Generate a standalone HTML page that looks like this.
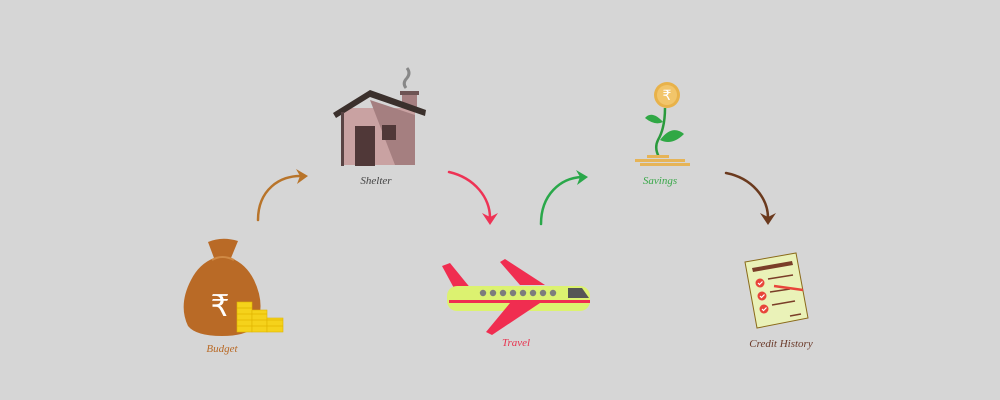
<!DOCTYPE html>
<html><head><style>
html,body{margin:0;padding:0;background:#d6d6d6;}
svg{display:block}
text{font-family:"Liberation Serif",serif;font-style:italic;font-size:11px;text-anchor:middle}
</style></head><body>
<svg width="1000" height="400" viewBox="0 0 1000 400">
<rect width="1000" height="400" fill="#d6d6d6"/>
<!-- arrows -->
<g fill="none" stroke-width="2.5" stroke-linecap="round">
<path d="M258,220 C258,190 280,175 302,176" stroke="#b8742a"/>
<path d="M541,224 C541,195 560,178 582,177" stroke="#2aa84a"/>
<path d="M449,172 C475,178 490,198 490,218" stroke="#ee3355"/>
<path d="M726,173 C752,178 768,198 768,218" stroke="#6b3a1e"/>
</g>
<polygon points="296,169 308,176 297,184 300,176" fill="#b8742a"/>
<polygon points="576,170 588,177 577,185 580,177" fill="#2aa84a"/>
<polygon points="482,213 490,225 498,213 490,217" fill="#ee3355"/>
<polygon points="760,213 768,225 776,213 768,217" fill="#6b3a1e"/>
<!-- budget bag -->
<path d="M208,242 Q222,236 238,241 L231,258 Q246,264 254,280 Q266,305 256,326 Q246,336 222,336 Q196,336 188,326 Q178,305 191,280 Q199,264 214,258 Z" fill="#b96a26"/>
<path d="M212,260 Q222,254 234,260" stroke="#d08a45" stroke-width="2" fill="none"/>
<text x="220" y="316" style="font-size:30px;font-style:normal;font-family:'DejaVu Sans',sans-serif" fill="#fff">₹</text>
<g fill="#f5d21b" stroke="#e0b400" stroke-width="0.6">
<rect x="237" y="302" width="15" height="30"/>
<rect x="252" y="310" width="15" height="22"/>
<rect x="267" y="318" width="16" height="14"/>
</g>
<g stroke="#e0b400" stroke-width="0.8"><line x1="237" y1="308" x2="252" y2="308"/><line x1="237" y1="314" x2="267" y2="314"/><line x1="237" y1="320" x2="283" y2="320"/><line x1="237" y1="326" x2="283" y2="326"/></g>
<text x="222" y="352" fill="#b96a26">Budget</text>
<!-- house -->
<rect x="343" y="108" width="72" height="57" fill="#c9a2a2"/>
<polygon points="370,100 415,115 415,165 395,165" fill="#a57f80"/>
<rect x="402" y="93" width="15" height="14" fill="#a57f80"/>
<rect x="400" y="91" width="19" height="4" fill="#6e5454"/>
<path d="M406,88 q-4,-5 1,-10 q4,-5 0,-10" stroke="#888" stroke-width="3" fill="none"/>
<polygon points="333,113 370,90 426,110 425,116 370,97 336,118" fill="#3b302c"/>
<rect x="341" y="112" width="3" height="54" fill="#5a4444"/>
<rect x="355" y="126" width="20" height="40" fill="#503838"/>
<rect x="382" y="125" width="14" height="15" fill="#503838"/>
<text x="376" y="184" fill="#444">Shelter</text>
<!-- plane -->
<polygon points="442,266 450,263 472,290 455,290" fill="#f02d50"/>
<polygon points="500,262 505,259 545,285 520,285" fill="#f02d50"/>
<rect x="447" y="286" width="143" height="25" rx="10" fill="#dcf270"/>
<rect x="449" y="300" width="141" height="3" fill="#f02d50"/>
<polygon points="568,288 582,288 589,298 568,298" fill="#555"/>
<polygon points="510,303 540,303 492,335 486,332" fill="#f02d50"/>
<g fill="#7d7d7d"><circle cx="483" cy="293" r="3.2"/><circle cx="493" cy="293" r="3.2"/><circle cx="503" cy="293" r="3.2"/><circle cx="513" cy="293" r="3.2"/><circle cx="523" cy="293" r="3.2"/><circle cx="533" cy="293" r="3.2"/><circle cx="543" cy="293" r="3.2"/><circle cx="553" cy="293" r="3.2"/></g>
<text x="516" y="346" fill="#e8334f">Travel</text>
<!-- savings -->
<path d="M665,108 Q665,128 658,140 Q654,148 659,157" stroke="#2a9a3c" stroke-width="2.5" fill="none"/>
<path d="M663,122 Q652,110 645,118 Q655,126 663,122Z" fill="#30a845"/>
<path d="M660,140 Q672,124 684,134 Q672,146 660,140Z" fill="#30a845"/>
<circle cx="667" cy="95" r="13" fill="#e8b24a"/>
<circle cx="667" cy="95" r="10" fill="#f2c56a"/>
<text x="667" y="100" style="font-size:14px;font-style:normal;font-family:'DejaVu Sans',sans-serif" fill="#fff">₹</text>
<g fill="#e6b457"><rect x="647" y="155" width="22" height="3"/><rect x="635" y="159" width="50" height="3"/><rect x="640" y="163" width="50" height="3"/></g>
<text x="660" y="184" fill="#3aa84a">Savings</text>
<!-- credit -->
<polygon points="745,262 796,253 808,318 757,328" fill="#eaf2b8" stroke="#8a6a1a" stroke-width="1"/>
<polygon points="752,268 792,261 793,265 753,272" fill="#7a3e28"/>
<g fill="#e8453a"><circle cx="760" cy="283" r="4.5"/><circle cx="762" cy="296" r="4.5"/><circle cx="764" cy="309" r="4.5"/></g>
<g stroke="#fff" stroke-width="1.2" fill="none"><path d="M758,283 l1.5,1.5 l3,-3"/><path d="M760,296 l1.5,1.5 l3,-3"/><path d="M762,309 l1.5,1.5 l3,-3"/></g>
<g stroke="#7a3e28" stroke-width="1.5"><line x1="768" y1="279" x2="793" y2="275"/><line x1="770" y1="292" x2="790" y2="289"/><line x1="772" y1="305" x2="795" y2="301"/><line x1="790" y1="316" x2="801" y2="314"/></g>
<line x1="774" y1="286" x2="803" y2="290" stroke="#e8453a" stroke-width="2.5"/>
<text x="781" y="347" fill="#6b3a2a">Credit History</text>
</svg>
</body></html>
